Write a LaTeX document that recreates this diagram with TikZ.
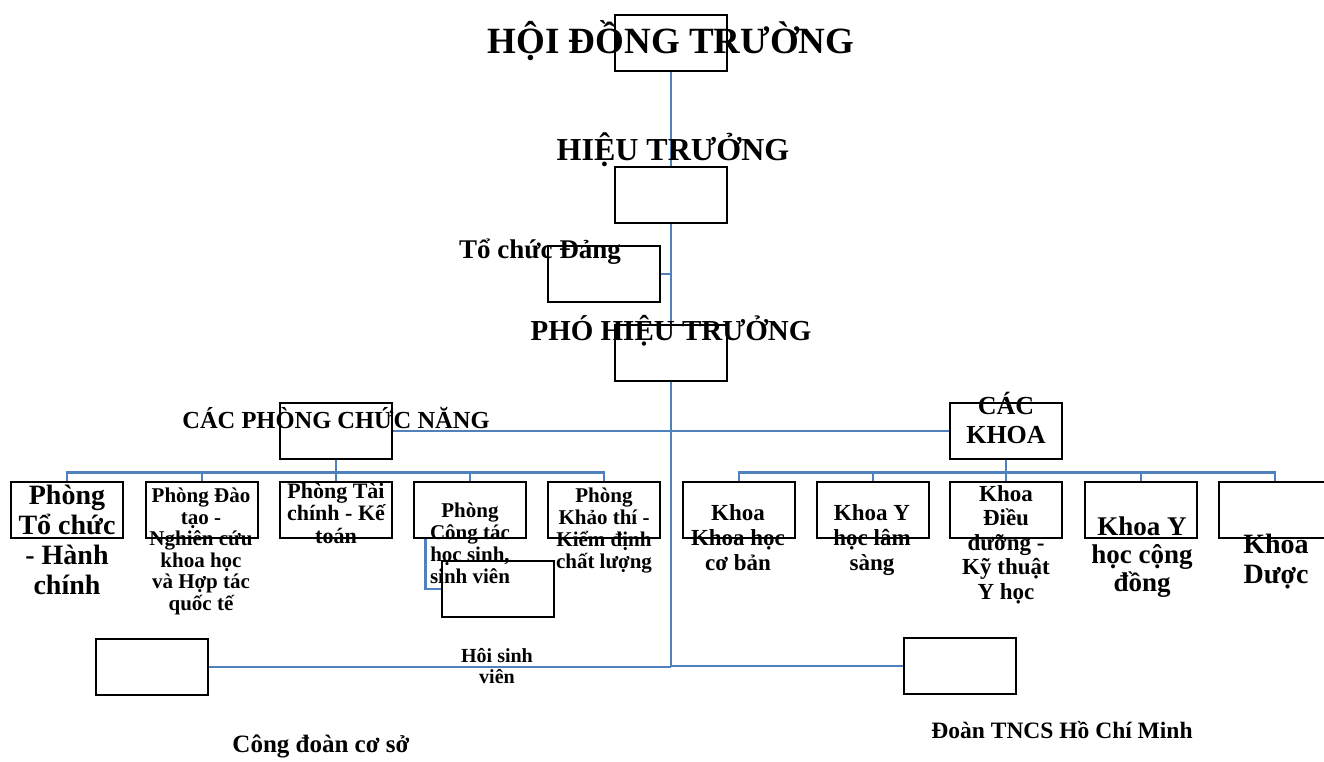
\documentclass[tikz,border=0pt]{standalone}
\usepackage{fontspec}
\setmainfont{Liberation Serif}
\definecolor{linkblue}{HTML}{4F81BD}
\tikzset{
    unitbox/.style={draw,line width=2.6pt,minimum width=112pt,minimum height=56pt,inner sep=0pt},
    link/.style={draw=linkblue,line width=2.8pt},
    lbl/.style 2 args={anchor=base,align=center,inner sep=0pt,font=\bfseries\fontsize{#1}{#2}\selectfont},
}
\begin{document}
\begin{tikzpicture}[x=1pt,y=-1pt]
    \useasboundingbox (0,0) rectangle (1324,761);
    % boxes
    \node[unitbox] (hdt) at (671,43) {};
    \node[unitbox] (ht) at (671,195) {};
    \node[unitbox] (dang) at (604,274) {};
    \node[unitbox] (pht) at (671,353) {};
    \node[unitbox] (cpcn) at (336,431) {};
    \node[unitbox] (ck) at (1006,431) {};
    \node[unitbox] (p1) at (67,510) {};
    \node[unitbox] (p2) at (202,510) {};
    \node[unitbox] (p3) at (336,510) {};
    \node[unitbox] (p4) at (470,510) {};
    \node[unitbox] (p5) at (604,510) {};
    \node[unitbox] (k1) at (739,510) {};
    \node[unitbox] (k2) at (873,510) {};
    \node[unitbox] (k3) at (1006,510) {};
    \node[unitbox] (k4) at (1141,510) {};
    \node[unitbox] (k5) at (1275,510) {};
    \node[unitbox] (hsv) at (498,589) {};
    \node[unitbox] (cdoan) at (152,667) {};
    \node[unitbox] (doan) at (960,666) {};
    \coordinate (jbot) at (671,667);

    % connectors
    \draw[link] (hdt.south) -- (ht.north);
    \draw[link] (ht.south) -- (pht.north);
    \draw[link] (dang.east) -- (dang.east -| ht.south);
    \draw[link] (pht.south) -- (jbot);
    \draw[link] (cpcn.east) -- (ck.west);
    \foreach \b in {p1,p2,p3,p4,p5}
        \draw[link] (cpcn.south) -- ++(0,12) -| (\b.north);
    \foreach \b in {k1,k2,k3,k4,k5}
        \draw[link] (ck.south) -- ++(0,12) -| (\b.north);
    \draw[link] ([xshift=13pt]p4.south west) |- (hsv.west);
    \draw[link] (cdoan.east) -- (cdoan.east -| jbot);
    \draw[link] (doan.west) -- (doan.west -| jbot);

    % texts (base = last line)
    \node[lbl={37}{37}] (lhdt) at (671,53) {HỘI ĐỒNG TRƯỜNG};
    \node[lbl={32}{32}] (lht) at (673,160) {HIỆU TRƯỞNG};
    \node[lbl={27}{27}] (ldang) at (540,258) {Tổ chức Đảng};
    \node[lbl={29}{29}] (lpht) at (671,340) {PHÓ HIỆU TRƯỞNG};
    \node[lbl={24.5}{24.5}] (lcpcn) at (336,428) {CÁC PHÒNG CHỨC NĂNG};
    \node[lbl={26}{29}] (lck) at (1006,443) {CÁC\\KHOA};
    \node[lbl={28}{30}] (lp1) at (67,594) {Phòng\\Tổ chức\\- Hành\\chính};
    \node[lbl={21}{21.5}] (lp2) at (201,610) {Phòng Đào\\tạo -\\Nghiên cứu\\khoa học\\và Hợp tác\\quốc tế};
    \node[lbl={22}{22.5}] (lp3) at (336,543) {Phòng Tài\\chính - Kế\\toán};
    \node[lbl={21}{21.7}] (lp4) at (470,583) {Phòng\\Công tác\\học sinh,\\sinh viên};
    \node[lbl={21}{21.7}] (lp5) at (604,568) {Phòng\\Khảo thí -\\Kiểm định\\chất lượng};
    \node[lbl={23}{25}] (lk1) at (738,570) {Khoa\\Khoa học\\cơ bản};
    \node[lbl={23}{25}] (lk2) at (872,570) {Khoa Y\\học lâm\\sàng};
    \node[lbl={23}{24.5}] (lk3) at (1006,599) {Khoa\\Điều\\dưỡng -\\Kỹ thuật\\Y học};
    \node[lbl={27}{28}] (lk4) at (1142,591) {Khoa Y\\học cộng\\đồng};
    \node[lbl={28}{30}] (lk5) at (1276,583) {Khoa\\Dược};
    \node[lbl={20}{21}] (lhsv) at (497,683) {Hôi sinh\\viên};
    \node[lbl={25}{25}] (lcdoan) at (321,752) {Công đoàn cơ sở};
    \node[lbl={23.5}{23.5}] (ldoan) at (1062,738) {Đoàn TNCS Hồ Chí Minh};
\end{tikzpicture}
\end{document}
